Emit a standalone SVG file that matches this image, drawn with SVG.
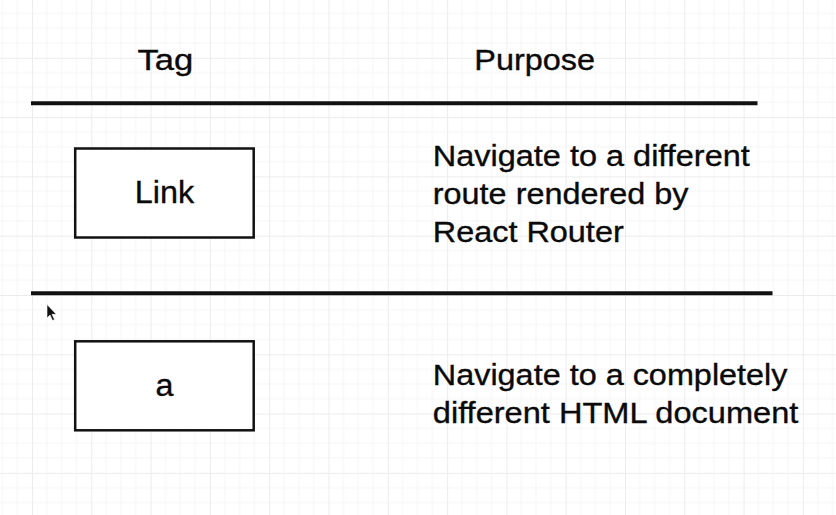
<svg xmlns="http://www.w3.org/2000/svg" width="836" height="515" viewBox="0 0 836 515">
  <style>
    text { font-family: "Liberation Sans", Arial, Helvetica, sans-serif; font-size: 29.5px; fill: #0a0a0a; stroke: #0a0a0a; stroke-width: 0.35px; }
    .lbl { font-size: 31px; }
    .box { fill: #ffffff; stroke: #111; stroke-width: 2.5; }
    .rule { stroke: #111; stroke-width: 4; fill: none; }
  </style>
  <defs>
    <pattern id="grid" patternUnits="userSpaceOnUse" x="32" y="-1.5" width="59.3" height="59.3">
      <path d="M14.83 0V59.3M29.65 0V59.3M44.48 0V59.3M0 14.83H59.3M0 29.65H59.3M0 44.48H59.3" stroke="#f6f6f6" stroke-width="1" fill="none"/>
      <path d="M0.5 0V59.3M0 0.5H59.3" stroke="#ececec" stroke-width="1" fill="none"/>
    </pattern>
  </defs>
  <rect x="0" y="0" width="836" height="515" fill="#ffffff"/>
  <rect x="0" y="0" width="836" height="515" fill="url(#grid)"/>

  <g id="header-tag"><text x="137.5" y="69.5" textLength="55.8" lengthAdjust="spacingAndGlyphs">Tag</text></g>
  <g id="header-purpose"><text x="474.3" y="69.5" textLength="120.7" lengthAdjust="spacingAndGlyphs">Purpose</text></g>

  <g id="connectors">
    <line class="rule" x1="31" y1="103.3" x2="757.5" y2="103.3"/>
    <line class="rule" x1="31" y1="293.3" x2="772.5" y2="293.3"/>
  </g>

  <g id="node-link">
    <rect class="box" x="75.2" y="148.5" width="178.5" height="89"/>
    <text class="lbl" x="164.5" y="202.7" text-anchor="middle" textLength="59.4" lengthAdjust="spacingAndGlyphs">Link</text>
  </g>
  <g id="desc-link">
    <text x="432.8" y="166" textLength="317" lengthAdjust="spacingAndGlyphs">Navigate to a different</text>
    <text x="432.8" y="204" textLength="255.7" lengthAdjust="spacingAndGlyphs">route rendered by</text>
    <text x="432.8" y="242" textLength="190.9" lengthAdjust="spacingAndGlyphs">React Router</text>
  </g>

  <g id="node-a">
    <rect class="box" x="75.2" y="341.3" width="178.5" height="89"/>
    <text class="lbl" x="164.5" y="396" text-anchor="middle" textLength="18" lengthAdjust="spacingAndGlyphs">a</text>
  </g>
  <g id="desc-a">
    <text x="432.8" y="385" textLength="354.7" lengthAdjust="spacingAndGlyphs">Navigate to a completely</text>
    <text x="432.8" y="422.5" textLength="365.5" lengthAdjust="spacingAndGlyphs">different HTML document</text>
  </g>

  <g id="cursor">
    <path d="M47 304.5 L47 318 L50 315 L52.5 320.5 L54.5 319.6 L52 314.3 L56.3 314.3 Z" fill="#111" stroke="#fff" stroke-width="0.6"/>
  </g>
</svg>
